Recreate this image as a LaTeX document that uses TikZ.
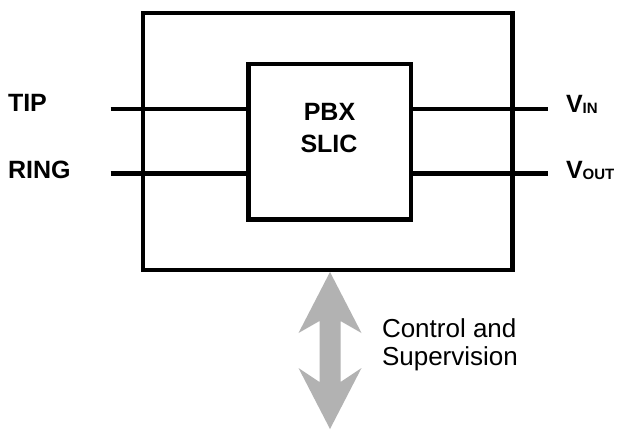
\documentclass[tikz,border=0pt]{standalone}
\usepackage{fontspec}
\setmainfont{Liberation Sans}
\begin{document}
\begin{tikzpicture}[x=0.75pt,y=-0.75pt,
  frame/.style={draw=black,line width=3.5pt,inner sep=0pt,outer sep=0pt,fill=none},
  wire/.style={draw=black,line width=3.5pt,line cap=butt},
  lbl/.style={inner sep=0pt,outer sep=0pt,anchor=base west,font=\fontsize{18.75}{22}\selectfont\bfseries},
  ctr/.style={inner sep=0pt,outer sep=0pt,anchor=base,font=\fontsize{18.75}{22}\selectfont\bfseries},
  note/.style={inner sep=0pt,outer sep=0pt,anchor=base west,font=\fontsize{19.5}{22}\selectfont},
  bigarrow/.style={fill=arrowgray,draw=none}]
\definecolor{arrowgray}{RGB}{178,178,178}
\useasboundingbox (0,0) rectangle (621,430);
\fill[white] (0,0) rectangle (621,430);

% boxes
\node[frame,minimum width=369.5*0.75pt,minimum height=257*0.75pt] (outer) at (327.75,141.5) {};
\node[frame,minimum width=162.5*0.75pt,minimum height=155.5*0.75pt] (inner) at (329.75,141.75) {};

% labels inside
\node[ctr] (pbx) at (329.5,120.7) {PBX};
\node[ctr] (slic) at (329,152.3) {SLIC};

% wire ends
\coordinate (tipL) at (110.7,109);
\coordinate (ringL) at (110.7,173.5);
\coordinate (vinR) at (548.3,109);
\coordinate (voutR) at (548.3,173.5);

\draw[wire] (tipL) -- (tipL -| inner.west);
\draw[wire] (ringL) -- (ringL -| inner.west);
\draw[wire] (inner.east |- vinR) -- (vinR);
\draw[wire] (inner.east |- voutR) -- (voutR);

% outer labels
\node[lbl] (tip) at (8,111.7) {TIP};
\node[lbl] (ring) at (8,178.3) {RING};
\node[lbl] (vin) at (566,112.8) {V\raisebox{-0.75pt}{\fontsize{11.25}{12}\selectfont IN}};
\node[lbl] (vout) at (566,178.3) {V\raisebox{-0.75pt}{\fontsize{11.25}{12}\selectfont OUT}};

% bidirectional control arrow
\coordinate (atop) at (330,272);
\coordinate (abot) at (330,429);
\fill[bigarrow] (atop) -- ++(31.5,61) -- ++(-21,-12) -- ++(0,61) -- ++(21,-14)
  -- (abot) -- ++(-31.5,-61) -- ++(21,14) -- ++(0,-61) -- ++(-21,12) -- cycle;

\node[note] (ctrl1) at (382,337) {Control and};
\node[note] (ctrl2) at (382,365) {Supervision};
\end{tikzpicture}
\end{document}
